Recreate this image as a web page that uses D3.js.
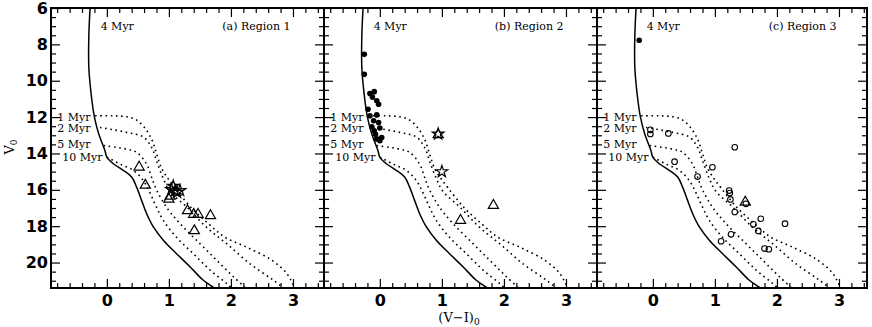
<!DOCTYPE html>
<html>
<head>
<meta charset="utf-8">
<script src="https://cdn.jsdelivr.net/npm/d3@7"></script>
<style>
  body { margin: 0; background: #fff; }
  svg { display: block; }
  .tick line { stroke: #000; stroke-width: 1.2; }
  .ticklab text { font-family: "DejaVu Sans", sans-serif; font-weight: bold; font-size: 16px; fill: #000; }
  .note { font-family: "DejaVu Serif", serif; font-size: 11px; fill: #000; }
  .title { font-family: "DejaVu Serif", serif; font-size: 13px; fill: #000; }
</style>
</head>
<body>
<div id="chart"></div>
<script>
// ---- axes / ticks
const xMajor = [0, 1, 2, 3];
const xMinor = d3.range(-0.8, 3.5, 0.2).filter(v => Math.abs(v - Math.round(v)) > 0.05);
const yMajor = [6, 8, 10, 12, 14, 16, 18, 20];
const yMinor = d3.range(6.5, 21.4, 0.5).filter(v => v % 2 !== 0);

// ---- isochrones (V-I, V)
const iso4Myr = [[-0.27,6.0],[-0.29,7.5],[-0.29,9.3],[-0.24,11.1],[-0.2,12.0],[-0.13,12.93],[-0.03,13.85],
  [0.0,14.2],[0.11,14.58],[0.27,14.94],[0.4,15.3],[0.48,15.85],[0.56,16.58],[0.64,17.3],[0.75,18.04],
  [0.91,18.77],[1.12,19.5],[1.34,20.23],[1.55,20.96],[1.74,21.42],[1.8,21.6]];
const pms1Myr = [[-0.19,11.93],[0.1,11.93],[0.32,11.98],[0.46,12.12],[0.6,12.55],[0.72,13.2],[0.8,14.0],
  [0.88,14.8],[0.98,15.35],[1.1,15.9],[1.35,16.95],[1.65,17.9],[1.9,18.6],[2.25,19.15],[2.65,19.85],
  [2.9,20.6],[3.0,21.2],[3.05,21.6]];
const pms2Myr = [[-0.11,12.57],[0.32,12.84],[0.59,13.1],[0.72,13.66],[0.8,14.4],[0.9,15.3],[1.02,16.1],
  [1.29,16.95],[1.6,18.04],[1.93,18.96],[2.3,20.05],[2.68,20.96],[2.92,21.6]];
const pms5Myr = [[-0.05,13.57],[0.32,13.76],[0.48,13.94],[0.64,14.58],[0.72,15.3],[0.8,16.0],[0.96,16.95],
  [1.18,17.86],[1.5,18.96],[1.77,19.87],[2.04,20.78],[2.3,21.6]];
const pms10Myr = [[0.0,14.2],[0.21,14.58],[0.43,14.94],[0.59,15.5],[0.7,16.2],[0.8,16.95],[0.91,17.68],
  [1.12,18.6],[1.39,19.5],[1.66,20.4],[1.93,21.15],[2.08,21.6]];
const pmsNames = ["1 Myr", "2 Myr", "5 Myr", "10 Myr"];
const pmsLabelV = [11.98, 12.62, 13.48, 14.2];

// ---- stars per region
const r1Triangles = [[0.52,14.75],[0.62,15.75],[1.02,16.35],[1.0,16.52],[1.3,17.15],[1.4,17.35],
  [1.47,17.35],[1.67,17.42],[1.41,18.25]];
const r1Stars = [[1.07,15.8],[1.18,16.04],[1.04,15.98],[1.13,16.13],[1.1,16.05]];

const r2Filled = [[-0.25,8.55],[-0.25,9.65],[-0.16,10.7],[-0.09,10.6],[-0.12,10.9],[-0.05,11.1],
  [-0.02,11.29],[-0.19,11.57],[-0.16,11.93],[-0.05,11.88],[-0.1,12.2],[-0.02,12.3],[-0.13,12.53],
  [0.0,12.6],[-0.09,12.75],[-0.07,12.95],[0.03,13.12],[-0.05,13.2],[0.0,13.3]];
const r2Stars = [[0.94,12.93],[1.0,15.0]];
const r2Triangles = [[0.94,12.97],[1.83,16.86],[1.3,17.68]];

const r3Filled = [[-0.22,7.77]];
const r3Open = [[-0.04,12.7],[-0.04,12.93],[0.25,12.9],[1.32,13.66],[0.35,14.45],[0.96,14.76],[0.72,15.27],
  [1.23,16.04],[1.24,16.18],[1.25,16.53],[1.5,16.77],[1.32,17.22],[1.74,17.59],[1.62,17.9],[2.13,17.86],
  [1.7,18.26],[1.26,18.45],[1.1,18.83],[1.8,19.23],[1.87,19.27]];
const r3Triangles = [[1.49,16.68]];

const regionTitles = ["(a) Region 1", "(b) Region 2", "(c) Region 3"];

const panels = [
  { triangles: r1Triangles, stars: r1Stars, filled: [], open: [] },
  { triangles: r2Triangles, stars: r2Stars, filled: r2Filled, open: [] },
  { triangles: r3Triangles, stars: [], filled: r3Filled, open: r3Open }
];

// ---- layout
const W = 872, H = 327;
const panelLeft = [51, 324, 597];
const panelW = [273, 273, 270];
const plotTop = 8, plotH = 280;

const svg = d3.select("#chart").append("svg").attr("width", W).attr("height", H);

const x = d3.scaleLinear().domain([-0.9, 3.5]).range([0, 273]);
const y = d3.scaleLinear().domain([6, 21.4]).range([0, plotH]);

const line = d3.line().x(d => x(d[0])).y(d => y(d[1])).curve(d3.curveCatmullRom.alpha(0.5));

panels.forEach((p, i) => {
  const w = panelW[i];
  const g = svg.append("g").attr("transform", `translate(${panelLeft[i]},${plotTop})`);

  g.append("clipPath").attr("id", "clip" + i)
    .append("rect").attr("width", w).attr("height", plotH);

  const plot = g.append("g").attr("clip-path", `url(#clip${i})`);

  plot.append("path").datum(iso4Myr)
    .attr("d", line).attr("fill", "none").attr("stroke", "#000").attr("stroke-width", 1.5);

  [pms1Myr, pms2Myr, pms5Myr, pms10Myr].forEach(iso => {
    plot.append("path").datum(iso)
      .attr("d", line).attr("fill", "none").attr("stroke", "#000")
      .attr("stroke-width", 1.6).attr("stroke-dasharray", "1.6 3.6");
  });

  // markers
  const tri = d3.symbol().type(d3.symbolTriangle).size(45);
  const star = d3.symbol().type(d3.symbolStar).size(42);

  plot.selectAll(".tri").data(p.triangles).enter().append("path")
    .attr("transform", d => `translate(${x(d[0])},${y(d[1])})`)
    .attr("d", tri).attr("fill", "none").attr("stroke", "#000").attr("stroke-width", 1.2);

  plot.selectAll(".star").data(p.stars).enter().append("path")
    .attr("transform", d => `translate(${x(d[0])},${y(d[1])})`)
    .attr("d", star).attr("fill", "none").attr("stroke", "#000").attr("stroke-width", 1.2);

  plot.selectAll(".dot").data(p.filled).enter().append("circle")
    .attr("cx", d => x(d[0])).attr("cy", d => y(d[1])).attr("r", 2.8).attr("fill", "#000");

  plot.selectAll(".ring").data(p.open).enter().append("circle")
    .attr("cx", d => x(d[0])).attr("cy", d => y(d[1])).attr("r", 2.8)
    .attr("fill", "none").attr("stroke", "#000").attr("stroke-width", 1.1);

  // annotations
  g.append("text").attr("class", "note").attr("x", x(-0.1)).attr("y", y(7.0)).attr("dy", "0.35em")
    .text("4 Myr");
  g.append("text").attr("class", "note").attr("x", x(2.96)).attr("y", y(7.0)).attr("dy", "0.35em")
    .attr("text-anchor", "end").text(regionTitles[i]);
  pmsNames.forEach((n, k) => {
    g.append("text").attr("class", "note")
      .attr("x", x(k === 3 ? -0.72 : -0.8)).attr("y", y(pmsLabelV[k])).attr("dy", "0.35em")
      .text(n);
  });

  // ticks on four sides, pointing inward
  const xs = d3.scaleLinear().domain([-0.9, -0.9 + 4.4 * w / 273]).range([0, w]);
  const xm = xMinor.filter(v => xs(v) < w - 1);
  const addAxis = (axis, tr, cls) => {
    const a = g.append("g").attr("class", cls || "").attr("transform", tr).call(axis);
    a.select(".domain").remove();
    return a;
  };
  addAxis(d3.axisBottom(xs).tickValues(xMajor).tickSize(-9).tickPadding(7).tickFormat(d3.format("d")),
    `translate(0,${plotH})`, "ticklab");
  addAxis(d3.axisBottom(xs).tickValues(xm).tickSize(-5).tickFormat(""), `translate(0,${plotH})`);
  addAxis(d3.axisTop(xs).tickValues(xMajor).tickSize(-9).tickFormat(""), "translate(0,0)");
  addAxis(d3.axisTop(xs).tickValues(xm).tickSize(-5).tickFormat(""), "translate(0,0)");
  addAxis(d3.axisLeft(y).tickValues(yMajor).tickSize(-9).tickPadding(3)
    .tickFormat(i === 0 ? d3.format("d") : ""), "translate(0,0)", "ticklab");
  addAxis(d3.axisLeft(y).tickValues(yMinor).tickSize(-5).tickFormat(""), "translate(0,0)");
  addAxis(d3.axisRight(y).tickValues(yMajor).tickSize(-9).tickFormat(""), `translate(${w},0)`);
  addAxis(d3.axisRight(y).tickValues(yMinor).tickSize(-5).tickFormat(""), `translate(${w},0)`);

  g.append("rect").attr("width", w).attr("height", plotH)
    .attr("fill", "none").attr("stroke", "#000").attr("stroke-width", 2);
});

// axis titles
const xt = svg.append("text").attr("class", "title").attr("x", 459).attr("y", 322).attr("text-anchor", "middle");
xt.append("tspan").text("(V\u2212I)");
xt.append("tspan").attr("dy", 3).attr("font-size", "9px").text("0");

const yt = svg.append("text").attr("class", "title")
  .attr("transform", "translate(14,147) rotate(-90)").attr("text-anchor", "middle");
yt.append("tspan").text("V");
yt.append("tspan").attr("dy", 3).attr("font-size", "9px").text("0");
</script>
</body>
</html>
